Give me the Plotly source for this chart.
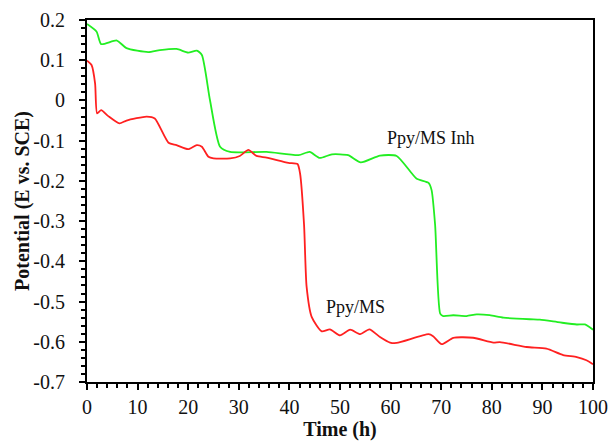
import plotly.graph_objects as go

# Ppy/MS Inh (green)
t_inh = [0, 1.9, 2.8, 5.9, 7.8, 12.1, 14.4, 17.7, 20, 21.7, 22.7, 24.3, 26.3, 28.3, 35.5, 41.8, 44,
         46, 48.4, 51.6, 54.1, 57.9, 61.2, 65.1, 67.5, 68.1, 68.8, 69.8, 70.4, 72.4, 75, 77, 79.6,
         82.3, 87.5, 89.5, 93.5, 96.8, 98.4, 100]
v_inh = [0.19, 0.171, 0.14, 0.149, 0.13, 0.12, 0.125, 0.128, 0.119, 0.124, 0.113, 0.001, -0.115,
         -0.128, -0.128, -0.136, -0.128, -0.143, -0.134, -0.136, -0.154, -0.137, -0.138, -0.194,
         -0.205, -0.223, -0.31, -0.53, -0.536, -0.534, -0.536, -0.532, -0.534, -0.54, -0.544,
         -0.545, -0.552, -0.557, -0.557, -0.57]

# Ppy/MS (red)
t_ms = [0, 0.9, 1.6, 2.0, 2.8, 4.2, 6.4, 7.8, 11.8, 13.4, 16.1, 17.7, 20, 21.7, 22.7, 24, 25, 28.3,
        30.2, 31.9, 33.5, 35.5, 39.8, 41.6, 42.1, 42.9, 43.4, 44.4, 46.4, 48, 50, 52, 54, 55.8,
        57.9, 59.9, 61.2, 67.5, 68.4, 70.1, 72.4, 76.3, 80.3, 81.6, 86.9, 90.8, 94.1, 96.8, 98.7, 100]
v_ms = [0.099, 0.088, 0.042, -0.032, -0.024, -0.039, -0.057, -0.05, -0.04, -0.045, -0.105, -0.111,
        -0.121, -0.111, -0.115, -0.14, -0.144, -0.144, -0.138, -0.123, -0.138, -0.142, -0.155,
        -0.158, -0.181, -0.31, -0.463, -0.538, -0.574, -0.569, -0.584, -0.57, -0.581, -0.569,
        -0.588, -0.602, -0.603, -0.581, -0.586, -0.606, -0.59, -0.59, -0.602, -0.601, -0.613,
        -0.617, -0.633, -0.638, -0.646, -0.656]

labels = ["Ppy/MS Inh", "Ppy/MS"]
label_pos = [(68, -0.094), (53, -0.514)]

FONT = "Liberation Serif, Times New Roman, serif"

fig = go.Figure()
fig.add_trace(go.Scatter(x=t_inh, y=v_inh, mode="lines", line=dict(color="#22ee22", width=1.8, shape="spline", smoothing=0.6), showlegend=False))
fig.add_trace(go.Scatter(x=t_ms, y=v_ms, mode="lines", line=dict(color="#ff2020", width=1.8, shape="spline", smoothing=0.6), showlegend=False))

for lab, (x, y) in zip(labels, label_pos):
    fig.add_annotation(x=x, y=y, text=lab, showarrow=False, font=dict(family=FONT, size=18, color="#111"))

# y-axis title placed as a rotated annotation
fig.add_annotation(xref="paper", yref="paper", x=-0.1285, y=0.5, xanchor="center", yanchor="middle",
                   text="<b>Potential (E vs. SCE)</b>", textangle=-90, showarrow=False,
                   font=dict(family=FONT, size=20, color="#111"))

fig.update_layout(
    width=610, height=443,
    margin=dict(l=87, r=17, t=20, b=61),
    paper_bgcolor="white", plot_bgcolor="white",
    font=dict(family=FONT, size=20, color="#111"),
)
fig.update_xaxes(
    range=[0, 100], tickvals=list(range(0, 101, 10)), showgrid=False, zeroline=False,
    showline=True, linecolor="black", linewidth=2, mirror=True, automargin=False,
    ticks="outside", ticklen=6, tickwidth=2, tickcolor="black", ticklabelstandoff=0,
    minor=dict(ticks="outside", ticklen=4, tickwidth=1.5, tickcolor="black", dtick=2, showgrid=False),
    title=dict(text="<b>Time (h)</b>", font=dict(family=FONT, size=20), standoff=4),
)
fig.update_yaxes(
    range=[-0.7, 0.2], tickvals=[0.2, 0.1, 0, -0.1, -0.2, -0.3, -0.4, -0.5, -0.6, -0.7],
    ticktext=["0.2", "0.1", "0", "-0.1", "-0.2", "-0.3", "-0.4", "-0.5", "-0.6", "-0.7"],
    showgrid=False, zeroline=False, automargin=False,
    showline=True, linecolor="black", linewidth=2, mirror=True,
    ticks="outside", ticklen=6, tickwidth=2, tickcolor="black", ticklabelstandoff=10,
    minor=dict(ticks="outside", ticklen=4, tickwidth=1.5, tickcolor="black", dtick=0.02, showgrid=False),
)

fig.write_html("out.html")
